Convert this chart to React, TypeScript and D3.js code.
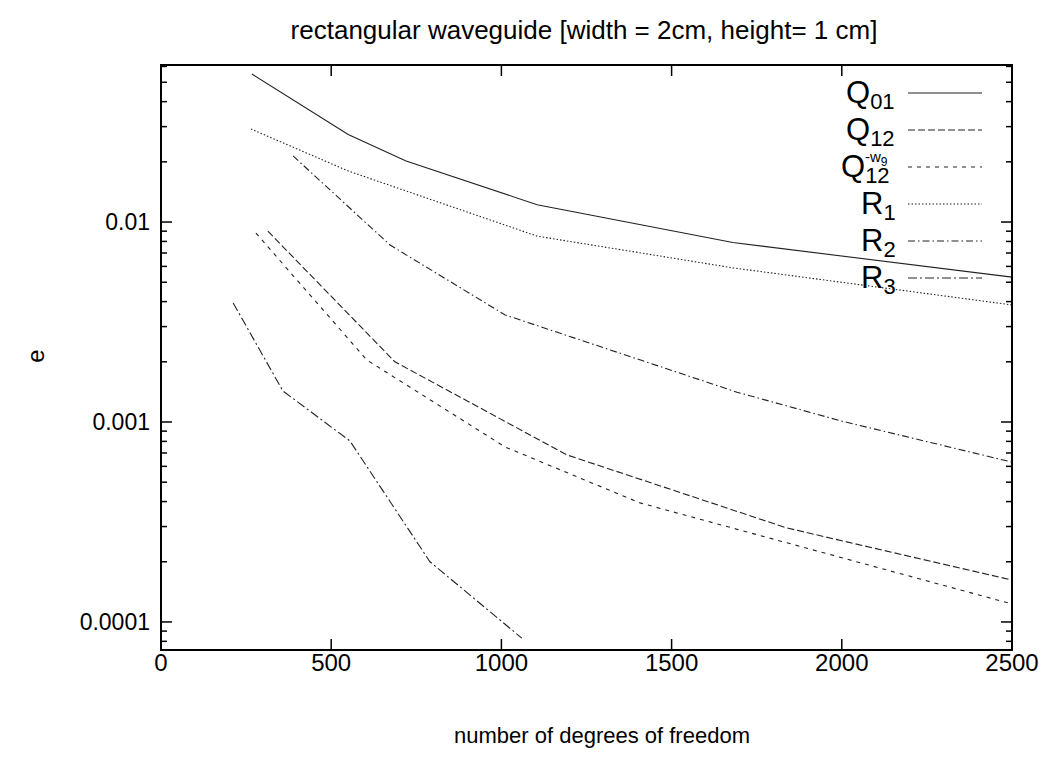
import React from "react";
import * as d3 from "d3";

const xTicks = [0, 500, 1000, 1500, 2000, 2500];
const yTicks = [0.0001, 0.001, 0.01];
const yTickLabels = ["0.0001", "0.001", "0.01"];

const q01X = [267, 550, 720, 1105, 1680, 2500];
const q01Y = [0.055, 0.0274, 0.0202, 0.0122, 0.0079, 0.0053];

const q12X = [314, 687, 1193, 1839, 2500];
const q12Y = [0.009, 0.002, 0.000684, 0.000295, 0.000162];

const q12w9X = [279, 605, 1011, 1407, 2500];
const q12w9Y = [0.0088, 0.00204, 0.00075, 0.000394, 0.000123];

const r1X = [264, 550, 1105, 1680, 2500];
const r1Y = [0.0292, 0.018, 0.0085, 0.0059, 0.00385];

const r2X = [388, 673, 1011, 1692, 2000, 2500];
const r2Y = [0.0214, 0.00767, 0.00343, 0.00141, 0.00101, 0.00063];

const r3X = [212, 358, 555, 790, 1060];
const r3Y = [0.00394, 0.00143, 0.000804, 0.0002, 0.000083];

const seriesNames = ["Q01", "Q12", "Q12w9", "R1", "R2", "R3"];

const W = 1046;
const H = 768;
const left = 161;
const right = 1012;
const top = 65;
const bottom = 650;

const FONT = "'Liberation Sans', Arial, Helvetica, sans-serif";

export default function App() {
  const x = d3.scaleLinear().domain([0, 2500]).range([left, right]);
  const y = d3.scaleLog().domain([7.24e-5, 0.061]).range([bottom, top]);

  const series = [
    { xs: q01X, ys: q01Y, dash: "none" },
    { xs: q12X, ys: q12Y, dash: "7,3" },
    { xs: q12w9X, ys: q12w9Y, dash: "4,5" },
    { xs: r1X, ys: r1Y, dash: "1.5,2" },
    { xs: r2X, ys: r2Y, dash: "7,3,1.5,3" },
    { xs: r3X, ys: r3Y, dash: "9,3,2,3" },
  ];

  const line = d3
    .line<[number, number]>()
    .x((d) => x(d[0]))
    .y((d) => y(d[1]));

  const minor: number[] = [];
  for (let e = -5; e <= -1; e++) {
    for (let m = 2; m <= 9; m++) {
      const v = m * Math.pow(10, e);
      if (v >= 7.24e-5 && v <= 0.061) minor.push(v);
    }
  }

  const legendY0 = 93;
  const legendDy = 37;
  const big = 31;
  const sub = 22;

  const legendLabel = (name: string, yy: number) => {
    const base = yy + 10;
    if (name === "Q12w9")
      return (
        <text x={841} y={base} fontFamily={FONT} fontSize={big} fill="#000">
          Q
          <tspan fontSize={sub} dy={6}>
            12
          </tspan>
          <tspan x={865} fontSize={15} dy={-21}>
            -w
          </tspan>
          <tspan fontSize={12} dy={4}>
            9
          </tspan>
        </text>
      );
    const startX = name[0] === "Q" ? 846 : 861;
    return (
      <text x={startX} y={base} fontFamily={FONT} fontSize={big} fill="#000">
        {name[0]}
        <tspan fontSize={sub} dy={6}>
          {name.slice(1)}
        </tspan>
      </text>
    );
  };

  return (
    <svg
      width={W}
      height={H}
      style={{ position: "absolute", left: 0, top: 0, background: "#fff" }}
    >
      <rect x={0} y={0} width={W} height={H} fill="#fff" />
      <text
        x={584}
        y={39}
        textAnchor="middle"
        fontFamily={FONT}
        fontSize={26}
        fill="#000"
      >
        rectangular waveguide [width = 2cm, height= 1 cm]
      </text>

      <defs>
        <clipPath id="plotclip">
          <rect x={left} y={top} width={right - left} height={bottom - top} />
        </clipPath>
      </defs>
      <g clipPath="url(#plotclip)">
        {series.map((s, i) => (
          <path
            key={seriesNames[i]}
            d={line(s.xs.map((v, j) => [v, s.ys[j]] as [number, number])) || ""}
            fill="none"
            stroke="#222"
            strokeWidth={1.1}
            strokeDasharray={s.dash}
          />
        ))}
      </g>

      <rect
        x={left}
        y={top}
        width={right - left}
        height={bottom - top}
        fill="none"
        stroke="#000"
        strokeWidth={2}
      />

      {xTicks.map((t) => (
        <g key={"x" + t}>
          <line x1={x(t)} x2={x(t)} y1={bottom} y2={bottom - 11} stroke="#000" strokeWidth={1.5} />
          <line x1={x(t)} x2={x(t)} y1={top} y2={top + 11} stroke="#000" strokeWidth={1.5} />
          <text
            x={x(t)}
            y={671}
            textAnchor="middle"
            fontFamily={FONT}
            fontSize={24}
            fill="#000"
          >
            {t}
          </text>
        </g>
      ))}

      {yTicks.map((t, i) => (
        <g key={"y" + t}>
          <line x1={left} x2={left + 11} y1={y(t)} y2={y(t)} stroke="#000" strokeWidth={1.5} />
          <line x1={right} x2={right - 11} y1={y(t)} y2={y(t)} stroke="#000" strokeWidth={1.5} />
          <text
            x={150}
            y={y(t) + 8}
            textAnchor="end"
            fontFamily={FONT}
            fontSize={23}
            fill="#000"
          >
            {yTickLabels[i]}
          </text>
        </g>
      ))}
      {minor.map((t) => (
        <g key={"m" + t}>
          <line x1={left} x2={left + 6} y1={y(t)} y2={y(t)} stroke="#000" strokeWidth={1.5} />
          <line x1={right} x2={right - 6} y1={y(t)} y2={y(t)} stroke="#000" strokeWidth={1.5} />
        </g>
      ))}

      <text
        x={602}
        y={743}
        textAnchor="middle"
        fontFamily={FONT}
        fontSize={22}
        fill="#000"
      >
        number of degrees of freedom
      </text>
      <text
        transform={`translate(44,356) rotate(-90)`}
        textAnchor="middle"
        fontFamily={FONT}
        fontSize={24}
        fill="#000"
      >
        e
      </text>

      {seriesNames.map((n, i) => {
        const yy = legendY0 + i * legendDy;
        return (
          <g key={"lg" + n}>
            {legendLabel(n, yy)}
            <line
              x1={908}
              x2={982}
              y1={yy}
              y2={yy}
              stroke="#222"
              strokeWidth={1.1}
              strokeDasharray={series[i].dash}
            />
          </g>
        );
      })}
    </svg>
  );
}
